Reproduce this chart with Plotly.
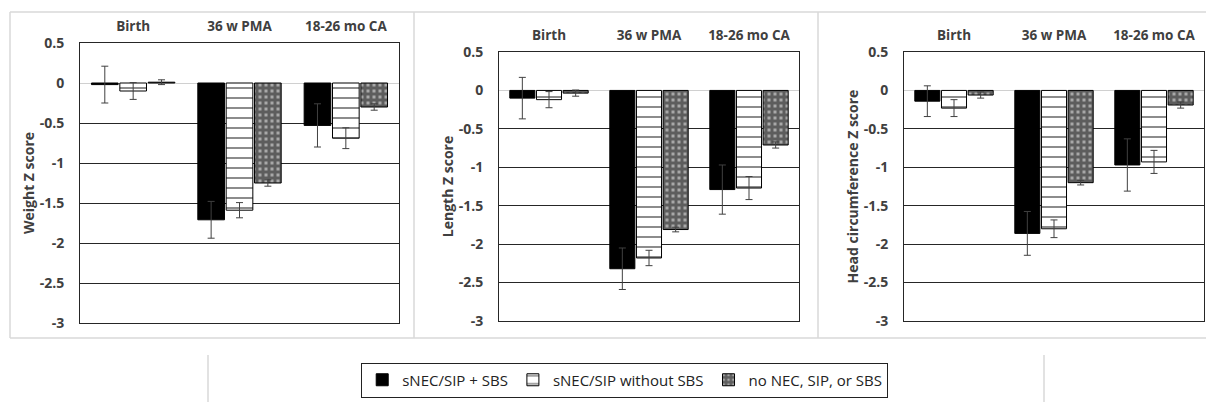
import plotly.graph_objects as go

W, H = 1206, 402

timepoints = ["Birth", "36 w PMA", "18-26 mo CA"]
groups = ["sNEC/SIP + SBS", "sNEC/SIP without SBS", "no NEC, SIP, or SBS"]

# Weight Z score (mean, error)
weight_sbs = [-0.02, -1.71, -0.53]
weight_sbs_err = [0.23, 0.23, 0.27]
weight_nosbs = [-0.10, -1.59, -0.69]
weight_nosbs_err = [0.105, 0.095, 0.13]
weight_none = [0.01, -1.25, -0.30]
weight_none_err = [0.03, 0.04, 0.04]

# Length Z score
length_sbs = [-0.10, -2.32, -1.29]
length_sbs_err = [0.27, 0.27, 0.32]
length_nosbs = [-0.12, -2.18, -1.27]
length_nosbs_err = [0.105, 0.10, 0.15]
length_none = [-0.035, -1.81, -0.71]
length_none_err = [0.04, 0.03, 0.04]

# Head circumference Z score
head_sbs = [-0.14, -1.86, -0.97]
head_sbs_err = [0.20, 0.285, 0.34]
head_nosbs = [-0.23, -1.80, -0.93]
head_nosbs_err = [0.11, 0.115, 0.15]
head_none = [-0.06, -1.20, -0.19]
head_none_err = [0.04, 0.03, 0.04]

y_titles = ["Weight Z score", "Length Z score", "Head circumference Z score"]
tick_vals = [0.5, 0, -0.5, -1, -1.5, -2, -2.5, -3]
tick_text = ["0.5", "0", "-0.5", "-1", "-1.5", "-2", "-2.5", "-3"]

panels = [
    (weight_sbs, weight_sbs_err, weight_nosbs, weight_nosbs_err, weight_none, weight_none_err),
    (length_sbs, length_sbs_err, length_nosbs, length_nosbs_err, length_none, length_none_err),
    (head_sbs, head_sbs_err, head_nosbs, head_nosbs_err, head_none, head_none_err),
]

# pixel boxes of the plot areas (left, right, top, bottom)
boxes = [(80, 399, 43, 323), (499, 799, 52, 321), (904, 1204, 52, 321)]

FONT = "Open Sans"
TXT = "#404040"
ERRC = "#404040"

fig = go.Figure()

styles = [
    dict(color="black", line=dict(color="black", width=1)),
    dict(color="white", line=dict(color="black", width=1),
         pattern=dict(shape="-", fgcolor="black", bgcolor="white", size=10, solidity=0.18)),
    dict(color="white", line=dict(color="black", width=1),
         pattern=dict(shape="+", fgcolor="#111111", bgcolor="#a8a8a8", size=6, solidity=0.75)),
]

for i, p in enumerate(panels):
    xa = "x" if i == 0 else f"x{i+1}"
    ya = "y" if i == 0 else f"y{i+1}"
    vals = [(p[0], p[1]), (p[2], p[3]), (p[4], p[5])]
    for g, (v, e) in enumerate(vals):
        fig.add_trace(go.Bar(
            x=timepoints, y=v, name=groups[g], xaxis=xa, yaxis=ya,
            marker=styles[g], showlegend=(i == 0),
            error_y=dict(type="data", array=e, visible=True, color=ERRC, thickness=1, width=3.5),
        ))

layout = dict(
    width=W, height=H, margin=dict(l=0, r=0, t=0, b=0, autoexpand=False),
    paper_bgcolor="white", plot_bgcolor="white",
    barmode="group", bargap=0.2, bargroupgap=0.06,
    font=dict(family=FONT, color=TXT),
    legend=dict(orientation="h", x=0.518, xanchor="center", y=1 - 380 / H, yanchor="middle",
                bordercolor="#222222", borderwidth=1, bgcolor="white",
                font=dict(size=15, color="#222222", family=FONT),
                itemwidth=30, traceorder="normal"),
)

for i, (l, r, t, b) in enumerate(boxes):
    sx = "xaxis" if i == 0 else f"xaxis{i+1}"
    sy = "yaxis" if i == 0 else f"yaxis{i+1}"
    yref = "y" if i == 0 else f"y{i+1}"
    xref = "x" if i == 0 else f"x{i+1}"
    layout[sx] = dict(
        domain=[l / W, r / W], anchor=yref, type="category", side="top",
        showline=True, mirror=True, linecolor="#262626", linewidth=1,
        ticks="", showgrid=False, zeroline=False, automargin=False,
        tickfont=dict(size=13.5, family=FONT, color=TXT, weight="bold"),
        ticklabelstandoff=6, fixedrange=True,
    )
    layout[sy] = dict(
        domain=[1 - b / H, 1 - t / H], anchor=xref, range=[-3, 0.5],
        tickvals=tick_vals, ticktext=tick_text, automargin=False,
        showline=True, mirror=True, linecolor="#262626", linewidth=1,
        showgrid=True, gridcolor="#262626", gridwidth=1,
        zeroline=True, zerolinecolor="#d0d0d0", zerolinewidth=1,
        ticks="", ticklabelstandoff=12,
        tickfont=dict(size=14, family=FONT, color=TXT, weight="bold"),
        title=dict(text=y_titles[i], standoff=1,
                   font=dict(size=14, family=FONT, color=TXT, weight="bold")),
        fixedrange=True,
    )

fig.update_layout(**layout)

# light gray chart-area frames
FR = "#d9d9d9"
def px_line(x0, y0, x1, y1):
    fig.add_shape(type="line", xref="paper", yref="paper",
                  x0=x0 / W, y0=1 - y0 / H, x1=x1 / W, y1=1 - y1 / H,
                  line=dict(color=FR, width=1.5), layer="below")

px_line(10, 12, 1206, 12)
px_line(10, 338, 1206, 338)
px_line(10, 12, 10, 338)
px_line(414, 12, 414, 338)
px_line(818, 12, 818, 338)
px_line(208, 355, 208, 402)
px_line(1044, 355, 1044, 402)

fig.write_html("out.html", config={"displayModeBar": False},
               post_script="document.body.style.margin='0';")
